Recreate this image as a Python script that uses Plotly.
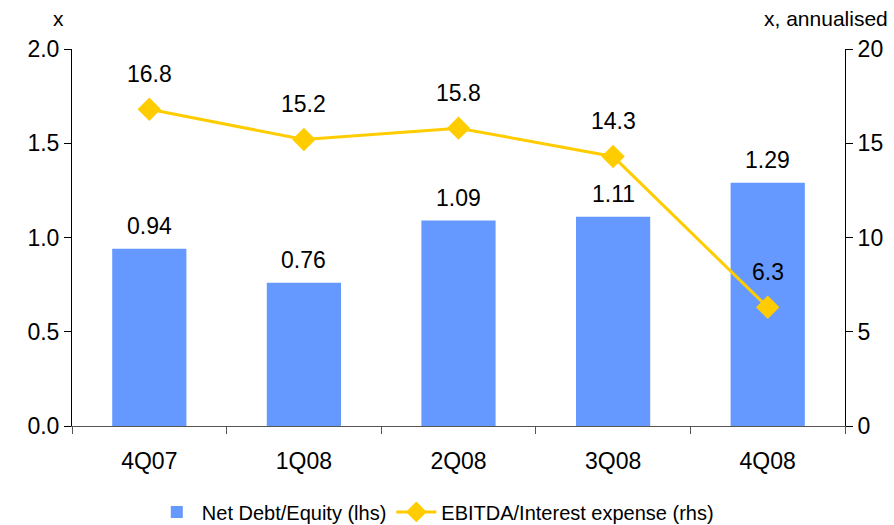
import plotly.graph_objects as go

quarters = ["4Q07", "1Q08", "2Q08", "3Q08", "4Q08"]
net_debt_equity = [0.94, 0.76, 1.09, 1.11, 1.29]
ebitda_interest = [16.8, 15.2, 15.8, 14.3, 6.3]

bar_color = "#6699FF"
line_color = "#FFCC00"
font_family = "Liberation Sans, Arial, sans-serif"

fig = go.Figure()

fig.add_trace(go.Bar(
    x=quarters, y=net_debt_equity, name="Net Debt/Equity (lhs)",
    marker=dict(color=bar_color, line=dict(width=0)),
    width=0.48, yaxis="y",
))

fig.add_trace(go.Scatter(
    x=quarters, y=ebitda_interest, name="EBITDA/Interest expense (rhs)",
    mode="lines+markers",
    line=dict(color=line_color, width=3),
    marker=dict(symbol="diamond", size=18, color=line_color),
    yaxis="y2",
))

# value labels above bars and line markers
for q, v in zip(quarters, net_debt_equity):
    fig.add_annotation(
        x=q, y=v, xref="x", yref="y", text=f"{v:.2f}", showarrow=False,
        yanchor="bottom", yshift=8, font=dict(size=23, color="black", family=font_family),
    )
for q, v in zip(quarters, ebitda_interest):
    fig.add_annotation(
        x=q, y=v, xref="x", yref="y2", text=f"{v:.1f}", showarrow=False,
        yanchor="bottom", yshift=20, font=dict(size=23, color="black", family=font_family),
    )

# axis unit captions
fig.add_annotation(
    text="x", xref="paper", yref="paper", x=-0.008, y=1.0, yshift=31,
    xanchor="right", yanchor="middle", showarrow=False,
    font=dict(size=21, color="black", family=font_family),
)
fig.add_annotation(
    text="x, annualised", xref="paper", yref="paper", x=1.058, y=1.0, yshift=31,
    xanchor="right", yanchor="middle", showarrow=False,
    font=dict(size=21, color="black", family=font_family),
)

fig.update_layout(
    width=894, height=525,
    margin=dict(l=72, r=49, t=49, b=99, autoexpand=False),
    plot_bgcolor="white", paper_bgcolor="white",
    font=dict(family=font_family, size=23, color="black"),
    showlegend=True,
    legend=dict(
        orientation="h", x=0.47, xanchor="center", y=-0.228, yanchor="middle",
        font=dict(size=20), itemwidth=40, tracegroupgap=0,
    ),
    xaxis=dict(
        type="category", showgrid=False, showline=True, linecolor="#555555",
        linewidth=1, ticks="outside", tickson="boundaries", ticklen=7,
        tickcolor="#555555", tickfont=dict(size=23), ticklabelstandoff=14,
        automargin=False,
    ),
    yaxis=dict(
        range=[0, 2.0], dtick=0.5, tickformat=".1f", showgrid=False,
        showline=True, linecolor="black", linewidth=1, ticks="outside",
        ticklen=7, tickcolor="black", zeroline=False, tickfont=dict(size=23),
        automargin=False,
    ),
    yaxis2=dict(
        range=[0, 20], dtick=5, overlaying="y", side="right", showgrid=False,
        showline=True, linecolor="black", linewidth=1, ticks="outside",
        ticklen=7, tickcolor="black", zeroline=False, tickfont=dict(size=23),
        automargin=False,
    ),
)

fig.write_html("out.html")
